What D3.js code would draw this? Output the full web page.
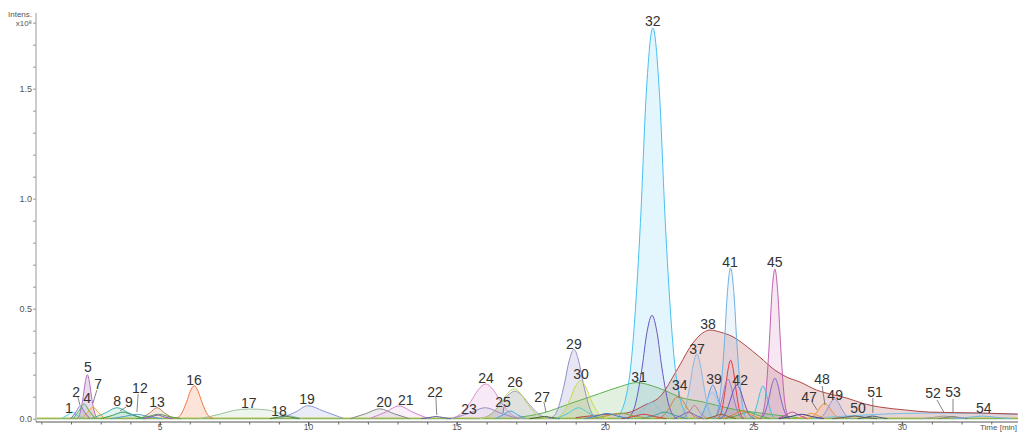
<!DOCTYPE html>
<html><head><meta charset="utf-8">
<script src="https://cdn.jsdelivr.net/npm/d3@7"></script>
<style>
body{margin:0;background:#fff}
svg{display:block}
text{font-family:"Liberation Sans",Arial,sans-serif}
</style>
</head><body>
<svg id="chart" width="1020" height="432"></svg>
<script>
// Extracted ion chromatogram traces: [time (min), intensity (x10^8)]
const pk01 = [[1.67,0],[1.86,0.015],[2.04,0.03],[2.22,0.015],[2.42,0]];
const pk02 = [[1.99,0],[2.16,0.029],[2.31,0.058],[2.46,0.029],[2.64,0]];
const pk04 = [[2.07,0],[2.26,0.034],[2.44,0.067],[2.62,0.034],[2.82,0]];
const pk05 = [[2.19,0],[2.29,0.02],[2.41,0.10],[2.48,0.167],[2.55,0.20],[2.62,0.167],[2.69,0.10],[2.81,0.02],[2.91,0]];
const pk07 = [[2.34,0],[2.55,0.027],[2.74,0.053],[2.93,0.027],[3.14,0]];
const pk08 = [[2.68,0],[3.14,0.025],[3.55,0.05],[3.96,0.025],[4.43,0]];
const pk09 = [[3.0,0],[3.40,0.015],[3.75,0.03],[4.10,0.015],[4.50,0]];
const pk12 = [[3.33,0],[3.79,0.01],[4.2,0.02],[4.61,0.01],[5.08,0]];
const pk13 = [[4.35,0],[4.64,0.025],[4.90,0.05],[5.16,0.025],[5.45,0]];
const pk16 = [[5.49,0],[5.68,0.015],[5.89,0.075],[6.02,0.125],[6.15,0.15],[6.28,0.125],[6.41,0.075],[6.62,0.015],[6.81,0]];
const pk17 = [[6.3,0],[7.0,0.02],[7.5,0.038],[8.0,0.044],[8.6,0.04],[9.1,0.022],[9.8,0]];
const pk18 = [[8.7,0],[8.96,0.006],[9.2,0.012],[9.44,0.006],[9.7,0]];
const pk19 = [[9.0,0],[9.55,0.029],[9.98,0.059],[10.5,0.035],[11.2,0]];
const pk20 = [[11.4,0],[11.93,0.023],[12.4,0.045],[12.87,0.023],[13.4,0]];
const pk21 = [[12.05,0],[12.58,0.029],[13.05,0.058],[13.52,0.029],[14.05,0]];
const pk22 = [[13.8,0],[14.06,0.005],[14.3,0.01],[14.54,0.005],[14.8,0]];
const pk23 = [[14.83,0],[15.42,0.025],[15.95,0.05],[16.48,0.025],[17.08,0]];
const pk24 = [[14.71,0],[15.07,0.016],[15.47,0.079],[15.72,0.132],[15.97,0.158],[16.22,0.132],[16.47,0.079],[16.87,0.016],[17.23,0]];
const pkLav = [[15.69,0],[16.05,0.0125],[16.45,0.063],[16.70,0.104],[16.95,0.125],[17.20,0.104],[17.45,0.063],[17.85,0.0125],[18.21,0]];
const pk25 = [[16.3,0],[16.56,0.018],[16.8,0.035],[17.04,0.018],[17.3,0]];
const pk26 = [[15.78,0],[16.10,0.0135],[16.47,0.068],[16.69,0.113],[16.92,0.135],[17.15,0.113],[17.37,0.068],[17.74,0.0135],[18.06,0]];
const pk27 = [[17.45,0],[17.71,0.005],[17.95,0.01],[18.19,0.005],[18.45,0]];
const pk29 = [[18.13,0],[18.36,0.032],[18.62,0.158],[18.78,0.263],[18.94,0.315],[19.10,0.263],[19.26,0.158],[19.52,0.032],[19.75,0]];
const pk30 = [[18.26,0],[18.52,0.017],[18.81,0.087],[18.98,0.144],[19.16,0.173],[19.34,0.144],[19.51,0.087],[19.81,0.017],[20.06,0]];
const pk31 = [[17.0,0.005],[17.9,0.026],[18.8,0.068],[19.8,0.114],[20.5,0.146],[21.05,0.164],[21.8,0.139],[22.6,0.094],[23.3,0.076],[24.1,0.049],[25.2,0.026],[26.5,0.005]];
const pk32 = [[20.41,0],[20.80,0.178],[21.18,0.888],[21.38,1.483],[21.60,1.776],[21.82,1.483],[22.02,0.888],[22.40,0.178],[22.79,0]];
const pk32b = [[20.73,0],[20.97,0.047],[21.24,0.235],[21.40,0.392],[21.57,0.47],[21.74,0.392],[21.90,0.235],[22.17,0.047],[22.41,0]];
const pk32c = [[20.93,0],[21.26,0.038],[21.55,0.075],[21.85,0.038],[22.18,0]];
const pk34 = [[21.70,0],[21.91,0.01],[22.16,0.05],[22.30,0.084],[22.45,0.1],[22.60,0.084],[22.75,0.05],[22.99,0.01],[23.20,0]];
const pk37 = [[22.48,0],[22.65,0.029],[22.84,0.147],[22.96,0.245],[23.08,0.294],[23.20,0.245],[23.32,0.147],[23.51,0.029],[23.68,0]];
const pk38 = [[19.0,0.005],[19.81,0.017],[20.72,0.026],[21.33,0.062],[21.83,0.099],[22.41,0.221],[22.95,0.344],[23.28,0.39],[23.52,0.403],[23.86,0.394],[24.30,0.372],[24.70,0.335],[25.20,0.28],[25.71,0.221],[26.11,0.189],[26.55,0.167],[27.12,0.13],[27.56,0.112],[28.13,0.094],[28.74,0.067],[29.24,0.053],[30.08,0.04],[30.92,0.03],[32.61,0.026],[33.89,0.021]];
const pk39 = [[23.11,0],[23.25,0.015],[23.42,0.077],[23.52,0.128],[23.62,0.153],[23.72,0.128],[23.82,0.077],[23.99,0.015],[24.13,0]];
const pk39b = [[23.0,0],[23.17,0.012],[23.36,0.06],[23.48,0.1],[23.6,0.12],[23.72,0.1],[23.84,0.06],[24.03,0.012],[24.2,0]];
const pk41 = [[23.68,0],[23.83,0.069],[24.01,0.343],[24.11,0.572],[24.22,0.685],[24.33,0.572],[24.43,0.343],[24.61,0.069],[24.76,0]];
const pk41b = [[23.77,0],[23.90,0.027],[24.04,0.133],[24.13,0.222],[24.22,0.266],[24.31,0.222],[24.40,0.133],[24.54,0.027],[24.67,0]];
const pk41c = [[23.62,0],[23.76,0.018],[23.93,0.09],[24.03,0.15],[24.13,0.18],[24.23,0.15],[24.33,0.09],[24.50,0.018],[24.64,0]];
const pk42 = [[23.83,0],[24.00,0.015],[24.19,0.077],[24.31,0.128],[24.43,0.153],[24.55,0.128],[24.67,0.077],[24.86,0.015],[25.03,0]];
const pk44 = [[24.86,0],[24.99,0.015],[25.13,0.075],[25.22,0.124],[25.31,0.149],[25.40,0.124],[25.49,0.075],[25.63,0.015],[25.76,0]];
const pk45 = [[25.23,0],[25.37,0.068],[25.52,0.34],[25.61,0.568],[25.71,0.68],[25.81,0.568],[25.90,0.34],[26.05,0.068],[26.19,0]];
const pk45b = [[25.20,0],[25.34,0.018],[25.51,0.092],[25.61,0.154],[25.71,0.184],[25.81,0.154],[25.91,0.092],[26.08,0.018],[26.22,0]];
const pk47 = [[26.45,0],[26.71,0.0125],[26.95,0.025],[27.19,0.0125],[27.45,0]];
const pk48 = [[26.79,0],[26.96,0.007],[27.15,0.035],[27.27,0.058],[27.39,0.07],[27.51,0.058],[27.63,0.035],[27.82,0.007],[27.99,0]];
const pk49 = [[27.12,0],[27.29,0.009],[27.48,0.045],[27.60,0.075],[27.72,0.09],[27.84,0.075],[27.96,0.045],[28.15,0.009],[28.32,0]];
const pk50 = [[27.65,0],[28.05,0.006],[28.4,0.012],[28.75,0.006],[29.15,0]];
const pk51 = [[28.5,0],[28.76,0.006],[29.0,0.012],[29.24,0.006],[29.5,0]];
const pk52 = [[30.65,0],[31.05,0.006],[31.4,0.012],[31.75,0.006],[32.15,0]];
const pk53 = [[31.2,0],[31.46,0.005],[31.7,0.01],[31.94,0.005],[32.2,0]];
const pk54 = [[31.7,0],[32.23,0.006],[32.7,0.012],[33.17,0.006],[33.7,0]];

// Minor unlabelled traces
const mn01 = [[18.35,0],[18.75,0.025],[19.1,0.05],[19.45,0.025],[19.85,0]];
const mn02 = [[22.6,0],[22.82,0.03],[23.0,0.06],[23.18,0.03],[23.4,0]];
const mn03 = [[21.25,0],[21.65,0.015],[22.0,0.03],[22.35,0.015],[22.75,0]];
const mn04 = [[22.3,0],[22.56,0.015],[22.8,0.03],[23.04,0.015],[23.3,0]];
const mn05 = [[24.05,0],[24.45,0.015],[24.8,0.03],[25.15,0.015],[25.55,0]];
const mn06 = [[25.8,0],[26.06,0.015],[26.3,0.03],[26.54,0.015],[26.8,0]];
const mn07 = [[25.85,0],[26.25,0.01],[26.6,0.02],[26.95,0.01],[27.35,0]];
const mn08 = [[19.5,0],[20.03,0.0125],[20.5,0.025],[20.97,0.0125],[21.5,0]];
const mn09 = [[20.55,0],[20.95,0.01],[21.3,0.02],[21.65,0.01],[22.05,0]];
const mn10 = [[23.98,0],[24.3,0.018],[24.6,0.035],[24.9,0.018],[25.22,0]];
const mn11 = [[19.3,0],[19.7,0.012],[20.05,0.024],[20.4,0.012],[20.8,0]];
const mn12 = [[23.4,0],[23.66,0.01],[23.9,0.02],[24.14,0.01],[24.4,0]];
const mn13 = [[4.2,0],[4.6,0.01],[4.95,0.02],[5.3,0.01],[5.7,0]];
const mn14 = [[4.45,0],[4.7,0.008],[4.92,0.016],[5.14,0.008],[5.4,0]];
const base1 = [[0.85,0.003],[33.9,0.003]];
const base2 = [[0.85,0.0],[33.9,0.0]];
const base3 = [[27.0,0.002],[28.5,0.015],[30.0,0.024],[31.5,0.026],[33.9,0.02]];

// Peak annotations
const labelNames = ["1","2","4","5","7","8","9","12","13","16","17","18","19","20","21","22","23","24","25","26","27","29","30","31","32","34","37","38","39","41","42","45","47","48","49","50","51","52","53","54"];
const labelTimes = [1.93,2.17,2.54,2.57,2.91,3.55,3.95,4.32,4.90,6.14,7.99,9.01,9.95,12.54,13.28,14.26,15.41,15.98,16.55,16.96,17.87,18.94,19.18,21.13,21.60,22.51,23.09,23.46,23.66,24.20,24.54,25.71,26.86,27.30,27.74,28.51,29.08,31.04,31.71,32.75];
const labelIntens = [0.049,0.121,0.094,0.235,0.158,0.080,0.076,0.140,0.076,0.176,0.071,0.035,0.090,0.076,0.085,0.121,0.044,0.185,0.076,0.167,0.099,0.340,0.203,0.190,1.808,0.153,0.317,0.430,0.181,0.712,0.176,0.712,0.099,0.181,0.108,0.049,0.121,0.117,0.121,0.049];
// Leader lines: [t1, v1, t2, v2]
const leaders = [[2.23,0.099,2.30,0.062],[2.87,0.130,2.74,0.071],[3.85,0.053,3.65,0.035],[4.26,0.112,4.22,0.030],[14.29,0.099,14.32,0.017],[16.58,0.053,16.55,0.026],[17.93,0.076,18.00,0.030],[22.48,0.126,22.48,0.094],[26.96,0.076,27.13,0.040],[27.30,0.149,27.40,0.062],[29.01,0.094,29.01,0.026],[31.17,0.085,31.40,0.030],[31.71,0.090,31.71,0.026]];

const xTicks = [5,10,15,20,25,30];
const yTicks = [0,0.5,1.0,1.5];

// Render table: trace, stroke colour, fill opacity
const traces = [
  [base2,"#3a9a40",0],[base1,"#c0c040",0],[base3,"#70c0e8",0.08],
  [pk17,"#a0c0a0",0.18],[pk19,"#8898d8",0.18],[pk20,"#888888",0.15],[pk21,"#d080d0",0.12],
  [pk38,"#b04848",0.22],[pk31,"#60b050",0.18],[pk32,"#48c0f0",0.15],
  [pk24,"#d890d0",0.2],[pkLav,"#a0a0c8",0.3],[pk26,"#c0d860",0.1],[pk23,"#9890c0",0.1],
  [pk29,"#9090c8",0.22],[pk30,"#c8d850",0.22],
  [pk41,"#70b0e0",0.12],[pk45,"#c060b0",0.15],[pk37,"#88b8e0",0.15],[pk39,"#5898e8",0.12],[pk39b,"#90d0f0",0.1],
  [pk41b,"#f03838",0.05],[pk41c,"#9878d0",0.08],[pk42,"#7050c0",0.08],[pk44,"#40c0e0",0.08],[pk45b,"#7868c8",0.06],
  [pk32b,"#6858c0",0.06],[pk32c,"#80c8e8",0.06],[pk34,"#d08040",0.06],
  [pk05,"#b070c0",0.25],[pk16,"#f07840",0.2],[pk13,"#c08058",0.2],[pk08,"#40b0a8",0.15],
  [pk01,"#50c8d8",0.15],[pk02,"#7a68d0",0.12],[pk04,"#50b050",0.12],[pk07,"#f0a830",0.15],
  [pk09,"#3a9a50",0.1],[pk12,"#50a0c8",0.1],[pk18,"#408040",0.1],[pk22,"#6060a0",0.1],
  [pk25,"#50a0e0",0.1],[pk27,"#406040",0.1],
  [pk47,"#e8a040",0.12],[pk48,"#f09040",0.15],[pk49,"#8898d8",0.18],
  [pk50,"#606060",0.1],[pk51,"#406080",0.1],[pk52,"#a0a0a0",0.1],[pk53,"#808080",0.1],[pk54,"#70b8e0",0.1],
  [mn01,"#50c8e0",0],[mn02,"#e070a0",0],[mn03,"#40a0a0",0],[mn04,"#8060c0",0],[mn05,"#60a060",0],
  [mn06,"#c050a0",0],[mn07,"#404090",0],[mn08,"#a0a040",0],[mn09,"#d04040",0],[mn10,"#e08030",0],
  [mn11,"#4080d0",0],[mn12,"#906030",0],[mn13,"#50a050",0],[mn14,"#9050c0",0]
];

const svg = d3.select("#chart");
const x = d3.scaleLinear().domain([0.82, 33.9]).range([36, 1018]);
const y = d3.scaleLinear().domain([0, 1.8]).range([418.7, 22.7]);

const area = d3.area().x(d => x(d[0])).y0(y(0)).y1(d => y(d[1])).curve(d3.curveMonotoneX);
const line = d3.line().x(d => x(d[0])).y(d => y(d[1])).curve(d3.curveMonotoneX);

const plot = svg.append("g");
plot.selectAll("path.fill").data(traces.filter(t => t[2] > 0)).join("path")
  .attr("class", "fill").attr("d", d => area(d[0]))
  .attr("fill", d => d[1]).attr("fill-opacity", d => d[2]).attr("stroke", "none");
plot.selectAll("path.trace").data(traces).join("path")
  .attr("class", "trace").attr("d", d => line(d[0]))
  .attr("fill", "none").attr("stroke", d => d[1]).attr("stroke-width", 1);

// Y axis
const yAxisG = svg.append("g").attr("transform", "translate(36,0)");
yAxisG.call(d3.axisLeft(y).tickValues(d3.range(0, 19).map(i => i / 10)).tickSize(3).tickFormat(""));
yAxisG.select(".domain").attr("d", "M0,13V422").attr("stroke", "#999");
yAxisG.selectAll(".tick line").attr("stroke", "#999");
yAxisG.selectAll(".major").data(yTicks).join("text")
  .attr("x", -4).attr("y", d => y(d)).attr("dy", "0.35em")
  .attr("text-anchor", "end").attr("font-size", 9).attr("fill", "#555")
  .text(d => d3.format(".1f")(d));
yAxisG.append("text").attr("x", -4).attr("y", y(1.8)).attr("dy", "0.35em")
  .attr("text-anchor", "end").attr("font-size", 8).attr("fill", "#555").text("x10⁸");
yAxisG.append("text").attr("x", -4).attr("y", 14).attr("dy", "0.35em")
  .attr("text-anchor", "end").attr("font-size", 8).attr("fill", "#555").text("Intens.");

// X axis
const xAxisG = svg.append("g").attr("transform", "translate(0,422)");
xAxisG.call(d3.axisBottom(x).tickValues(d3.range(1, 34)).tickSize(2.5).tickFormat(""));
xAxisG.select(".domain").attr("d", "M36,0H1018").attr("stroke", "#555");
xAxisG.selectAll(".tick line").attr("stroke", "#666");
xAxisG.selectAll(".maj").data(xTicks).join("line")
  .attr("x1", d => x(d)).attr("x2", d => x(d)).attr("y1", 0).attr("y2", 4).attr("stroke", "#555");
xAxisG.selectAll(".lbl").data(xTicks).join("text")
  .attr("x", d => x(d)).attr("y", 5.2).attr("dy", "0.35em")
  .attr("text-anchor", "middle").attr("font-size", 8.5).attr("fill", "#555").text(d => d);
xAxisG.append("text").attr("x", 1017).attr("y", 5.2).attr("dy", "0.35em")
  .attr("text-anchor", "end").attr("font-size", 8).attr("fill", "#555").text("Time [min]");

// Annotations
svg.append("g").selectAll("line").data(leaders).join("line")
  .attr("x1", d => x(d[0])).attr("y1", d => y(d[1]))
  .attr("x2", d => x(d[2])).attr("y2", d => y(d[3]))
  .attr("stroke", "#666").attr("stroke-width", 0.8);
svg.append("g").selectAll("text").data(labelNames).join("text")
  .attr("x", (d, i) => x(labelTimes[i])).attr("y", (d, i) => y(labelIntens[i]))
  .attr("dy", "0.36em").attr("text-anchor", "middle")
  .attr("font-size", 14).attr("fill", "#333").text(d => d);
</script>
</body></html>
